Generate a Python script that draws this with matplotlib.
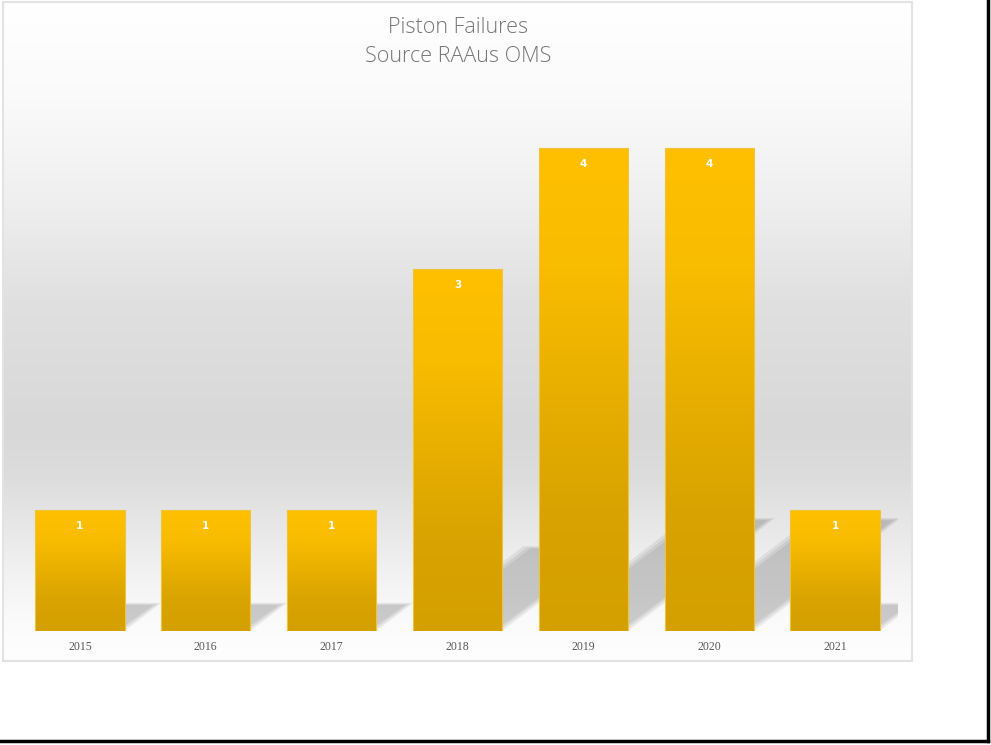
import numpy as np
import matplotlib
matplotlib.use("Agg")
import matplotlib.pyplot as plt
from matplotlib.patches import Rectangle, Polygon
from matplotlib.lines import Line2D
from matplotlib.colors import LinearSegmentedColormap

# data
years = ["2015", "2016", "2017", "2018", "2019", "2020", "2021"]
failures = [1, 1, 1, 3, 4, 4, 1]
title = "Piston Failures\nSource RAAus OMS"

W, H = 991, 745
fig = plt.figure(figsize=(W / 100, H / 100), dpi=100)
fig.patch.set_facecolor("white")

def fx(px):
    return px / W

def fy(py):
    return 1 - py / H

# chart area background (white -> grey -> white)
frame_l, frame_t, frame_r, frame_b = 3, 2, 912, 661
bg = fig.add_axes([fx(frame_l), fy(frame_b), fx(frame_r - frame_l), (frame_b - frame_t) / H])
stops = [0, 0.15, 0.30, 0.455, 0.65, 0.725, 0.80, 0.877, 0.945, 1.0]
grey = [255, 250, 239, 224, 216, 221, 232, 243, 251, 254]
t = np.linspace(0, 1, 400)
col = np.interp(t, stops, grey) / 255.0
grad = np.stack([col, col, col], axis=-1)[:, None, :].repeat(2, axis=1)
bg.imshow(grad, aspect="auto", extent=(0, 1, 0, 1), interpolation="bilinear")
bg.set_xlim(0, 1)
bg.set_ylim(0, 1)
bg.set_axis_off()
fig.add_artist(Rectangle((fx(frame_l), fy(frame_b)), fx(frame_r - frame_l), (frame_b - frame_t) / H,
                         transform=fig.transFigure, fill=False, edgecolor="#e3e3e3", linewidth=1.5))

# plot area
ax = fig.add_axes([fx(17), fy(631), fx(898 - 17), (631 - 88) / H])
ax.patch.set_alpha(0)
x = np.arange(len(years))
ax.set_xlim(-0.5, len(years) - 0.5)
ax.set_ylim(0, 4.5)
width = 0.71

# perspective shadows (a few stacked layers to soften the edge)
for xi, v in zip(x, failures):
    sh = 0.234 * v
    dx = 0.292 * v
    x0, x1 = xi - width / 2, xi + width / 2
    for k, a in [(0.0, 0.065), (0.03, 0.065), (0.06, 0.065)]:
        poly = Polygon([(x0 + k, 0), (x1 - k, 0), (x1 + dx - k, sh - k * 0.3), (x0 + dx + k, sh - k * 0.3)],
                       closed=True, facecolor="black", edgecolor="none", alpha=a, zorder=1)
        ax.add_patch(poly)

# gold gradient bars
gold = LinearSegmentedColormap.from_list(
    "gold", [(0, "#d4a000"), (0.25, "#d9a300"), (0.75, "#f8bc00"), (1.0, "#ffc000")])
bars = ax.bar(x, failures, width=width, color="none", edgecolor="#f0c43a", linewidth=0.8, zorder=3)
g = np.linspace(0, 1, 256).reshape(-1, 1)
for b in bars:
    x0, y0 = b.get_x(), b.get_y()
    im = ax.imshow(g, cmap=gold, origin="lower", aspect="auto",
                   extent=(x0, x0 + b.get_width(), y0, y0 + b.get_height()), zorder=2)
    im.set_clip_path(b)

for xi, v in zip(x, failures):
    ax.annotate(str(v), (xi, v), xytext=(0, -11.5), textcoords="offset points",
                ha="center", va="center", color="white", fontsize=7.5, fontweight="bold", zorder=4)

ax.set_xticks(x)
ax.set_xticklabels(years, family="Liberation Serif", fontsize=8.5, color="#595959")
ax.set_yticks([])
ax.tick_params(axis="x", length=0, pad=7)
for s in ax.spines.values():
    s.set_visible(False)

fig.text(fx(458), fy(42), title, ha="center", va="center", fontsize=15.5,
         family="Open Sans", fontweight="light", color="#767676", linespacing=1.45)

# outer black border (right and bottom)
fig.add_artist(Line2D([fx(988), fx(988)], [fy(0), fy(741)], transform=fig.transFigure, color="black", linewidth=2.5))
fig.add_artist(Line2D([fx(0), fx(988)], [fy(741), fy(741)], transform=fig.transFigure, color="black", linewidth=2.5))

fig.savefig("out.png", dpi=100, facecolor="white")
